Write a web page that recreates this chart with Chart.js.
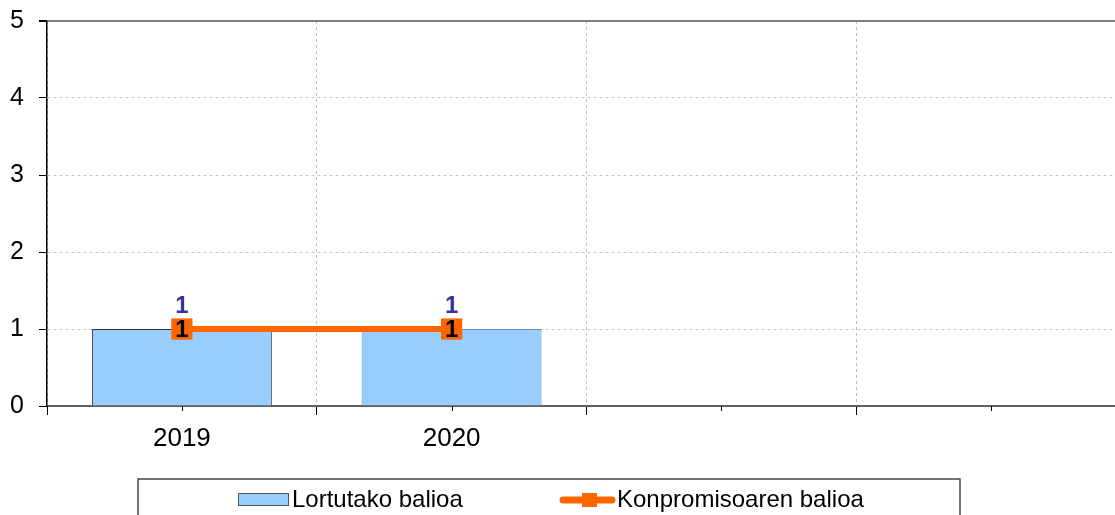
<!DOCTYPE html>
<html>
<head>
<meta charset="utf-8">
<script src="https://cdn.jsdelivr.net/npm/chart.js@4"></script>
<style>
  html, body { margin: 0; padding: 0; background: #fff; overflow: hidden; }
  #wrap { width: 1141px; height: 515px; }
</style>
</head>
<body>
<div id="wrap"><canvas id="chart" width="1141" height="515"></canvas></div>
<script>
// categories and values
const categories = ['2019', '2020', '', ''];
const achieved = [1, 1, null, null];     // Lortutako balioa
const commitment = [1, 1, null, null];   // Konpromisoaren balioa
const yTicks = [0, 1, 2, 3, 4, 5];
const seriesNames = ['Lortutako balioa', 'Konpromisoaren balioa'];

const FONT = '"Liberation Sans", Arial, sans-serif';

// small ticks at category centres
const centerTicks = {
    id: 'centerTicks',
    afterDraw(chart) {
        const x = chart.scales.x, ctx = chart.ctx;
        ctx.save();
        ctx.strokeStyle = '#000';
        ctx.lineWidth = 1;
        categories.forEach((c, i) => {
            const px = Math.round(x.getPixelForValue(i)) + 0.5;
            ctx.beginPath();
            ctx.moveTo(px, x.top);
            ctx.lineTo(px, x.top + 5);
            ctx.stroke();
        });
        ctx.restore();
    }
};

// value labels
const valueLabels = {
    id: 'valueLabels',
    afterDatasetsDraw(chart) {
        const ctx = chart.ctx;
        ctx.save();
        ctx.textAlign = 'center';
        ctx.textBaseline = 'middle';
        ctx.font = 'bold 24px ' + FONT;
        chart.getDatasetMeta(0).data.forEach((bar, i) => {
            if (achieved[i] == null) return;
            ctx.fillStyle = '#333399';
            ctx.fillText(String(achieved[i]), bar.x, bar.y - 23);
        });
        chart.getDatasetMeta(1).data.forEach((pt, i) => {
            if (commitment[i] == null) return;
            ctx.fillStyle = '#000';
            ctx.fillText(String(commitment[i]), pt.x, pt.y + 1);
        });
        ctx.restore();
    }
};

// boxed legend like the original
const boxLegend = {
    id: 'boxLegend',
    afterDraw(chart) {
        const ctx = chart.ctx;
        const top = 479, left = 138, right = 960, cy = 500;
        ctx.save();
        ctx.strokeStyle = '#444';
        ctx.lineWidth = 1.5;
        ctx.beginPath();
        ctx.moveTo(left, 520);
        ctx.lineTo(left, top);
        ctx.lineTo(right, top);
        ctx.lineTo(right, 520);
        ctx.stroke();

        // bar symbol
        ctx.fillStyle = '#99CCFF';
        ctx.fillRect(238, cy - 7, 51, 13);
        ctx.strokeStyle = '#555';
        ctx.lineWidth = 1;
        ctx.strokeRect(238.5, cy - 6.5, 50, 12);

        // line symbol
        ctx.strokeStyle = '#FF6600';
        ctx.lineWidth = 7;
        ctx.lineCap = 'round';
        ctx.beginPath();
        ctx.moveTo(563, cy);
        ctx.lineTo(612, cy);
        ctx.stroke();
        ctx.fillStyle = '#FF6600';
        ctx.fillRect(582, cy - 7, 15, 14);

        ctx.fillStyle = '#000';
        ctx.font = '24px ' + FONT;
        ctx.textBaseline = 'middle';
        ctx.textAlign = 'left';
        ctx.fillText(seriesNames[0], 292, cy);
        ctx.fillText(seriesNames[1], 617, cy);
        ctx.restore();
    }
};

new Chart(document.getElementById('chart'), {
    data: {
        labels: categories,
        datasets: [{
            type: 'bar',
            label: seriesNames[0],
            data: achieved,
            backgroundColor: '#99CCFF',
            borderColor: ['#333333', '#5b8fc8', '#333333', '#333333'],
            borderWidth: 1,
            barPercentage: 0.667,
            categoryPercentage: 1,
            order: 2
        }, {
            type: 'line',
            label: seriesNames[1],
            data: commitment,
            borderColor: '#FF6600',
            borderWidth: 6,
            pointStyle: 'rect',
            pointRadius: 15,
            pointHoverRadius: 15,
            pointBackgroundColor: '#FF6600',
            pointBorderWidth: 0,
            order: 1
        }]
    },
    options: {
        responsive: false,
        animation: false,
        layout: { padding: { left: 0, top: 21, right: 2, bottom: 49 } },
        plugins: {
            legend: { display: false },
            tooltip: { enabled: false }
        },
        scales: {
            x: {
                offset: true,
                grid: {
                    offset: true,
                    color: '#c0c0c0',
                    lineWidth: 1,
                    tickColor: '#000',
                    tickLength: 9
                },
                border: { color: '#606060', width: 2, dash: [3, 3] },
                ticks: {
                    color: '#000',
                    font: { family: FONT, size: 26 },
                    padding: 8,
                    maxRotation: 0
                },
                afterFit(scale) { scale.height = 60; }
            },
            y: {
                min: 0,
                max: 5,
                afterBuildTicks(scale) { scale.ticks = yTicks.map(v => ({ value: v })); },
                grid: {
                    color: ctx => ctx.tick && ctx.tick.value === 5 ? '#808080' : '#c8c8c8',
                    lineWidth: ctx => ctx.tick && ctx.tick.value === 5 ? 2 : 1,
                    tickColor: '#000',
                    tickLength: 8
                },
                border: {
                    color: '#000',
                    width: 1.5,
                    dash: ctx => ctx.tick && ctx.tick.value === 5 ? [] : [3, 3]
                },
                ticks: {
                    color: '#000',
                    font: { family: FONT, size: 25 },
                    padding: 15
                },
                afterFit(scale) {
                    scale.width = 47;
                    scale.paddingTop = 0;
                    scale.paddingBottom = 0;
                }
            }
        }
    },
    plugins: [centerTicks, valueLabels, boxLegend]
});
</script>
</body>
</html>
